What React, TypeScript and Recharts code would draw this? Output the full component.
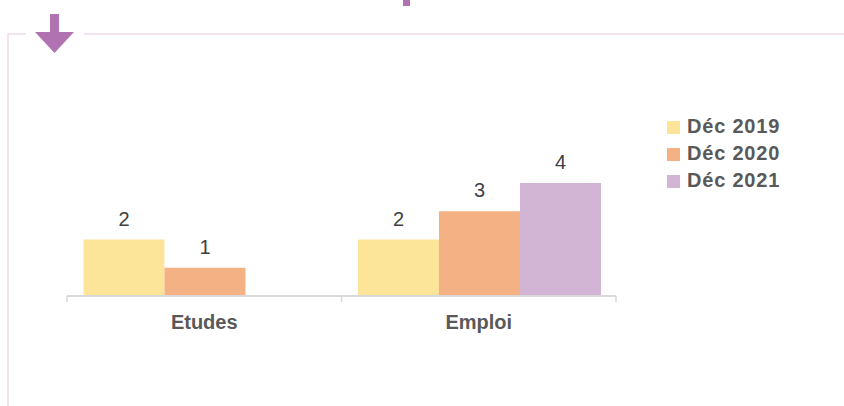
import React from 'react';
import { BarChart, Bar, XAxis, YAxis, Legend, LabelList } from 'recharts';

const categories = ['Etudes', 'Emploi'];
const dec2019 = [2, 2];
const dec2020 = [1, 3];
const dec2021: (number | null)[] = [null, 4];
const seriesNames = ['Déc 2019', 'Déc 2020', 'Déc 2021'];
const seriesColors = ['#FCE598', '#F4B183', '#D2B4D4'];

const data = categories.map((c, i) => ({
  name: c,
  s2019: dec2019[i],
  s2020: dec2020[i],
  s2021: dec2021[i],
}));

const FONT = '"Liberation Sans", Arial, sans-serif';

const CategoryTick = (props: any) => {
  const { x, y, payload, index, width, visibleTicksCount } = props;
  const band = width / (visibleTicksCount || 2);
  const axisY = y - 8;
  return (
    <g>
      {index === 0 && (
        <line x1={x - band / 2} x2={x - band / 2} y1={axisY} y2={axisY + 6} stroke="#d9d9d9" strokeWidth={1.5} />
      )}
      <line x1={x + band / 2} x2={x + band / 2} y1={axisY} y2={axisY + 6} stroke="#d9d9d9" strokeWidth={1.5} />
      <text x={x} y={axisY + 33} textAnchor="middle" fontFamily={FONT} fontWeight="bold" fontSize={20} fill="#595959">
        {payload.value}
      </text>
    </g>
  );
};

const ValueLabel = (props: any) => {
  const { x, y, width, value } = props;
  if (value === null || value === undefined) return null;
  return (
    <text x={x + width / 2} y={y - 14} textAnchor="middle" fontFamily={FONT} fontSize={20} fill="#404040">
      {value}
    </text>
  );
};

const LegendContent = (props: any) => {
  const { payload } = props;
  return (
    <div style={{ fontFamily: FONT }}>
      {(payload || []).map((p: any, i: number) => (
        <div key={i} style={{ display: 'flex', alignItems: 'center', height: 27 }}>
          <div style={{ width: 13, height: 13, background: p.color, marginRight: 7, marginTop: 2 }} />
          <span style={{ fontSize: 20, fontWeight: 'bold', color: '#595959', letterSpacing: 0.8, lineHeight: '27px' }}>
            {p.value}
          </span>
        </div>
      ))}
    </div>
  );
};

export default function App() {
  return (
    <div style={{ position: 'absolute', left: 0, top: 0, width: 844, height: 406, background: '#fff', overflow: 'hidden' }}>
      <svg width={844} height={406} style={{ position: 'absolute', left: 0, top: 0 }}>
        <line x1={7} x2={26} y1={34} y2={34} stroke="#F3E3EF" strokeWidth={2} />
        <line x1={84} x2={844} y1={34} y2={34} stroke="#F3E3EF" strokeWidth={2} />
        <line x1={8} x2={8} y1={33} y2={406} stroke="#F3E3EF" strokeWidth={2} />
        <rect x={50} y={14} width={9} height={19} fill="#B072B0" />
        <polygon points="35,32 74,32 54.5,53" fill="#B072B0" />
        <rect x={403} y={0} width={7} height={6} fill="#B072B0" />
      </svg>
      <div style={{ position: 'absolute', left: 0, top: 0 }}>
        <BarChart
          width={844}
          height={406}
          data={data}
          margin={{ top: 183, right: 228, bottom: 80, left: 67 }}
          barCategoryGap="6%"
          barGap={0}
        >
          <XAxis
            dataKey="name"
            height={30}
            axisLine={{ stroke: '#d9d9d9', strokeWidth: 2 }}
            tickLine={false}
            tick={<CategoryTick />}
            interval={0}
          />
          <YAxis hide domain={[0, 4]} />
          <Legend
            layout="vertical"
            align="center"
            verticalAlign="middle"
            wrapperStyle={{ left: 667, top: 113, width: 170 }}
            content={<LegendContent />}
          />
          {['s2019', 's2020', 's2021'].map((k, i) => (
            <Bar key={k} dataKey={k} name={seriesNames[i]} fill={seriesColors[i]} isAnimationActive={false}>
              <LabelList dataKey={k} content={<ValueLabel />} />
            </Bar>
          ))}
        </BarChart>
      </div>
    </div>
  );
}
